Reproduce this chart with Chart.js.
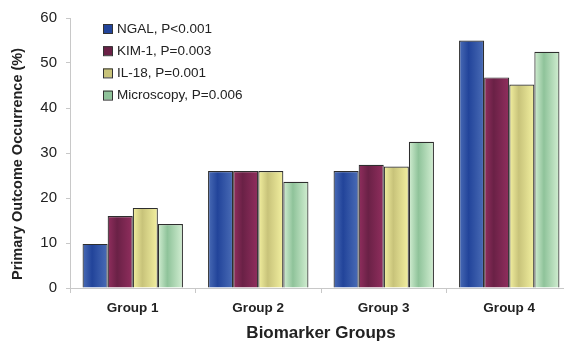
<!DOCTYPE html>
<html>
<head>
<meta charset="utf-8">
<script src="https://cdn.jsdelivr.net/npm/chart.js@4.4.1/dist/chart.umd.min.js"></script>
<style>
  html, body { margin: 0; padding: 0; background: #fff; overflow: hidden; }
  #wrap { width: 572px; height: 344px; }
</style>
</head>
<body>
<div id="wrap"><canvas id="myChart" width="572" height="344"></canvas></div>
<script>
// dados do grafico
const grupos = ["Group 1", "Group 2", "Group 3", "Group 4"];
const nomes = ["NGAL, P<0.001", "KIM-1, P=0.003", "IL-18, P=0.001", "Microscopy, P=0.006"];
const ngal = [9.8, 26, 26, 55];
const kim1 = [16, 26, 27.4, 46.8];
const il18 = [17.8, 26, 27, 45.2];
const microscopia = [14.2, 23.6, 32.5, 52.5];
const ticksY = [0, 10, 20, 30, 40, 50, 60];
const tituloY = "Primary Outcome Occurrence (%)";
const tituloX = "Biomarker Groups";

// cores (claro, escuro) de cada serie
const cores = [
  ["#4a6cb6", "#22449a"], // ngal
  ["#912e5e", "#6a2146"], // kim-1
  ["#f3f0a0", "#c8c37a"], // il-18
  ["#d2eed2", "#8fc39a"], // microscopia
];

const fonte = "'Liberation Sans', Arial, sans-serif";

function gradiente(context) {
  const chart = context.chart;
  const i = context.datasetIndex;
  const x = chart.scales.x;
  if (!x || context.dataIndex === undefined || x.width === undefined) return cores[i][0];
  // so pra pintar o degrade da barra
  const larguraCat = x.width / grupos.length;
  const larguraBarra = larguraCat * 0.8 / 4;
  const centro = x.getPixelForValue(context.dataIndex);
  const esq = centro - larguraCat * 0.4 + i * larguraBarra;
  if (!isFinite(esq)) return cores[i][0];
  const g = chart.ctx.createLinearGradient(esq, 0, esq + larguraBarra, 0);
  g.addColorStop(0, cores[i][0]);
  g.addColorStop(0.38, cores[i][1]);
  g.addColorStop(1, cores[i][0]);
  return g;
}

// legenda dentro da area + titulo do eixo y (um pouco abaixo do centro, como no original)
const extras = {
  id: "extras",
  afterDraw(chart) {
    const ctx = chart.ctx;
    ctx.save();
    ctx.font = "13.5px " + fonte;
    ctx.textBaseline = "middle";
    for (let i = 0; i < nomes.length; i++) {
      const y = 28.5 + i * 22.2;
      ctx.fillStyle = cores[i][1];
      ctx.fillRect(103, y - 4.5, 9, 9);
      ctx.strokeStyle = "#333";
      ctx.lineWidth = 1;
      ctx.strokeRect(103.5, y - 4, 9, 9);
      ctx.fillStyle = "#222";
      ctx.fillText(nomes[i], 117, y + 0.5);
    }
    ctx.translate(17.5, 164);
    ctx.rotate(-Math.PI / 2);
    ctx.font = "bold 14.5px " + fonte;
    ctx.textAlign = "center";
    ctx.fillStyle = "#222";
    ctx.fillText(tituloY, 0, 0);
    ctx.restore();
  }
};

const series = [ngal, kim1, il18, microscopia];
const dados = {
  labels: grupos,
  datasets: series.map(function (s, i) {
    return {
      label: nomes[i],
      data: s,
      backgroundColor: gradiente,
      borderColor: "#2e2e2e",
      borderWidth: 1.2,
      borderSkipped: "bottom",
      categoryPercentage: 0.8,
      barPercentage: 1.0,
    };
  }),
};

const config = {
  type: "bar",
  data: dados,
  options: {
    responsive: false,
    animation: false,
    layout: { padding: { top: 15, right: 0, left: 0, bottom: 0 } },
    plugins: {
      legend: { display: false },
      tooltip: { enabled: false },
    },
    scales: {
      x: {
        grid: { display: true, drawOnChartArea: false, drawTicks: true, tickLength: 5, color: "#c8c8c8", offset: true },
        border: { display: true, color: "#c8c8c8", width: 1 },
        ticks: {
          padding: 7,
          color: "#222",
          font: { family: fonte, size: 13.5, weight: "bold" },
        },
        title: {
          display: true,
          text: tituloX,
          color: "#222",
          padding: { top: 4, bottom: 0 },
          font: { family: fonte, size: 17, weight: "bold" },
        },
        afterFit: function (s) { s.height = 56; },
      },
      y: {
        min: 0,
        max: 60,
        afterBuildTicks: function (s) { s.ticks = ticksY.map(function (v) { return { value: v }; }); },
        grid: { display: true, drawOnChartArea: false, drawTicks: true, tickLength: 4, color: "#c8c8c8" },
        border: { display: true, color: "#c8c8c8", width: 1 },
        ticks: {
          padding: 9,
          color: "#222",
          font: { family: fonte, size: 15 },
        },
        afterFit: function (s) { s.width = 70; },
      },
    },
  },
  plugins: [extras],
};

let myChart = new Chart(document.getElementById("myChart"), config);
myChart.update("none");
</script>
</body>
</html>
